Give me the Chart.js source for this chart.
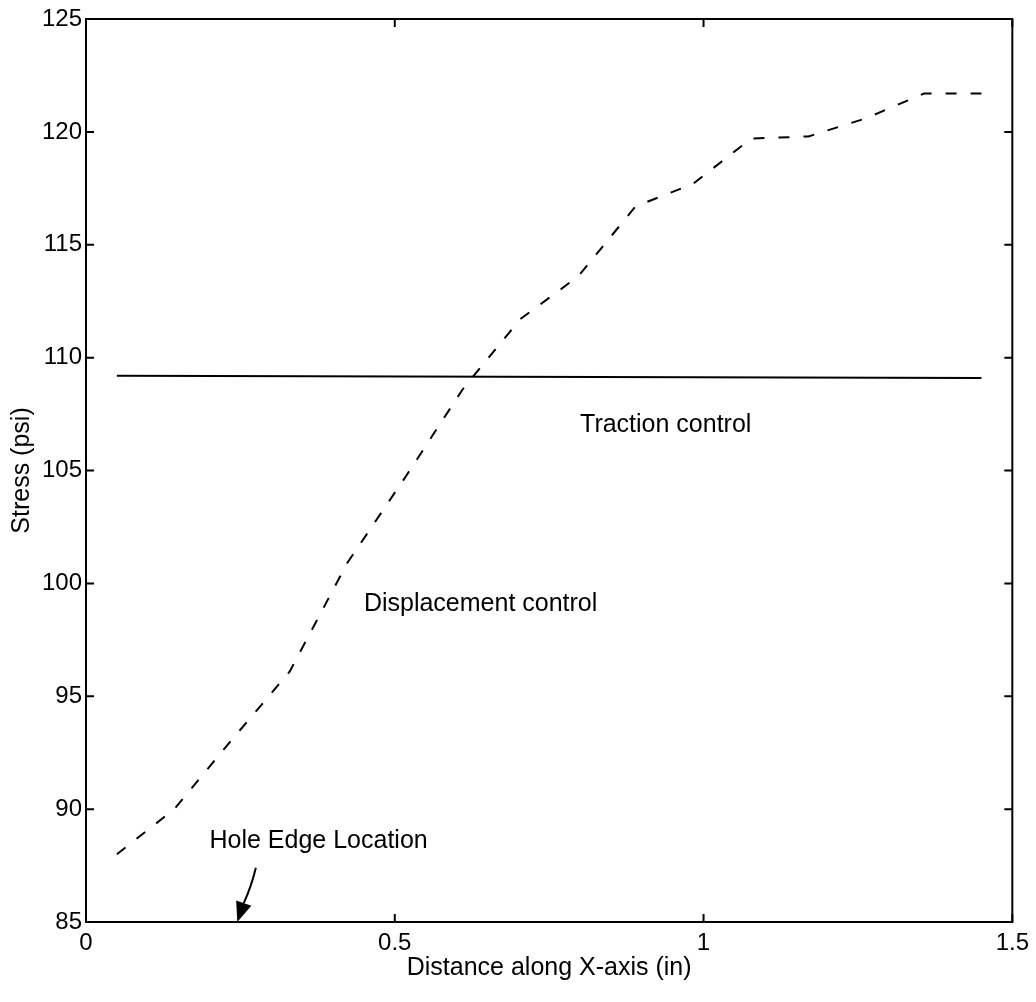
<!DOCTYPE html>
<html>
<head>
<meta charset="utf-8">
<script src="https://cdn.jsdelivr.net/npm/chart.js@4/dist/chart.umd.min.js"></script>
<style>
  html, body { margin: 0; padding: 0; background: #fff; }
  #wrap { width: 1036px; height: 1002px; position: relative; }
</style>
</head>
<body>
<div id="wrap"><canvas id="c" width="1036" height="1002"></canvas></div>
<script>
// ---- data ----
const distanceX = [0.05, 0.143, 0.237, 0.33, 0.423, 0.517, 0.61, 0.703, 0.797, 0.89, 0.983, 1.077, 1.17, 1.263, 1.357, 1.45];
const displacementStress = [88.0, 90.0, 93.1, 96.1, 100.9, 104.7, 108.6, 111.7, 113.6, 116.7, 117.7, 119.7, 119.8, 120.6, 121.7, 121.7];
const tractionX = [0.05, 1.45];
const tractionStress = [109.2, 109.1];
const xTickValues = [0, 0.5, 1, 1.5];
const xTickLabels = ['0', '0.5', '1', '1.5'];
const yTickValues = [85, 90, 95, 100, 105, 110, 115, 120, 125];
const labelTexts = ['Traction control', 'Displacement control', 'Hole Edge Location'];
const labelX = [0.80, 0.45, 0.20];
const labelY = [107.0, 99.1, 88.6];
const arrowFrom = [0.275, 87.4];
const arrowTo = [0.245, 85.0];

const FONT = "'Liberation Sans', Arial, Helvetica, sans-serif";

const framePlugin = {
  id: 'frame',
  afterDraw(chart) {
    const { ctx, chartArea: a, scales: { x, y } } = chart;
    ctx.save();
    ctx.strokeStyle = '#000';
    ctx.lineWidth = 2;
    ctx.strokeRect(a.left, a.top, a.right - a.left, a.bottom - a.top);
    const tl = 8;
    ctx.beginPath();
    xTickValues.forEach(v => {
      const px = x.getPixelForValue(v);
      ctx.moveTo(px, a.bottom); ctx.lineTo(px, a.bottom - tl);
      ctx.moveTo(px, a.top); ctx.lineTo(px, a.top + tl);
    });
    yTickValues.forEach(v => {
      const py = y.getPixelForValue(v);
      ctx.moveTo(a.left, py); ctx.lineTo(a.left + tl, py);
      ctx.moveTo(a.right, py); ctx.lineTo(a.right - tl, py);
    });
    ctx.stroke();

    // annotations
    ctx.fillStyle = '#000';
    ctx.font = '25px ' + FONT;
    ctx.textAlign = 'left';
    ctx.textBaseline = 'middle';
    labelTexts.forEach((t, i) => {
      ctx.fillText(t, x.getPixelForValue(labelX[i]), y.getPixelForValue(labelY[i]));
    });

    // arrow
    const x0 = x.getPixelForValue(arrowFrom[0]), y0 = y.getPixelForValue(arrowFrom[1]);
    const x1 = x.getPixelForValue(arrowTo[0]), y1 = y.getPixelForValue(arrowTo[1]);
    const ang = Math.atan2(y1 - y0, x1 - x0);
    const hl = 20, hw = 8;
    const bx = x1 - hl * Math.cos(ang), by = y1 - hl * Math.sin(ang);
    ctx.lineWidth = 2;
    ctx.beginPath();
    ctx.moveTo(x0, y0);
    ctx.quadraticCurveTo((x0 + bx) / 2 + 2, (y0 + by) / 2, bx, by);
    ctx.stroke();
    ctx.beginPath();
    ctx.moveTo(x1, y1);
    ctx.lineTo(bx + hw * Math.sin(ang), by - hw * Math.cos(ang));
    ctx.lineTo(bx - hw * Math.sin(ang), by + hw * Math.cos(ang));
    ctx.closePath();
    ctx.fill();
    ctx.restore();
  }
};

const ctx = document.getElementById('c').getContext('2d');
new Chart(ctx, {
  type: 'line',
  data: {
    datasets: [
      {
        label: 'Displacement control',
        data: distanceX.map((v, i) => ({ x: v, y: displacementStress[i] })),
        borderColor: '#000',
        borderWidth: 2,
        borderDash: [11, 14],
        pointRadius: 0,
        tension: 0,
        fill: false
      },
      {
        label: 'Traction control',
        data: tractionX.map((v, i) => ({ x: v, y: tractionStress[i] })),
        borderColor: '#000',
        borderWidth: 2,
        pointRadius: 0,
        tension: 0,
        fill: false
      }
    ]
  },
  options: {
    responsive: false,
    animation: false,
    devicePixelRatio: 1,
    layout: { padding: { top: 19, right: 5, left: 0, bottom: 2 } },
    plugins: { legend: { display: false }, tooltip: { enabled: false } },
    scales: {
      x: {
        type: 'linear',
        min: 0, max: 1.5,
        afterBuildTicks(scale) { scale.ticks = xTickValues.map(v => ({ value: v })); },
        afterFit(scale) { scale.height = 78; },
        ticks: {
          color: '#000',
          font: { family: FONT, size: 24 },
          padding: 7,
          maxRotation: 0,
          callback: (v) => xTickLabels[xTickValues.indexOf(v)] ?? ''
        },
        grid: { display: false, drawTicks: false },
        border: { display: true, color: '#000', width: 2 },
        title: {
          display: true,
          text: 'Distance along X-axis (in)',
          color: '#000',
          font: { family: FONT, size: 25 },
          padding: { top: 0, bottom: 17 }
        }
      },
      y: {
        type: 'linear',
        min: 85, max: 125,
        afterBuildTicks(scale) { scale.ticks = yTickValues.map(v => ({ value: v })); },
        afterFit(scale) { scale.width = 86; },
        ticks: {
          color: '#000',
          font: { family: FONT, size: 24 },
          padding: 4
        },
        grid: { display: false, drawTicks: false },
        border: { display: true, color: '#000', width: 2 },
        title: {
          display: true,
          text: 'Stress (psi)',
          color: '#000',
          font: { family: FONT, size: 25 },
          padding: { top: 7, bottom: 0 }
        }
      }
    }
  },
  plugins: [framePlugin]
});
</script>
</body>
</html>
